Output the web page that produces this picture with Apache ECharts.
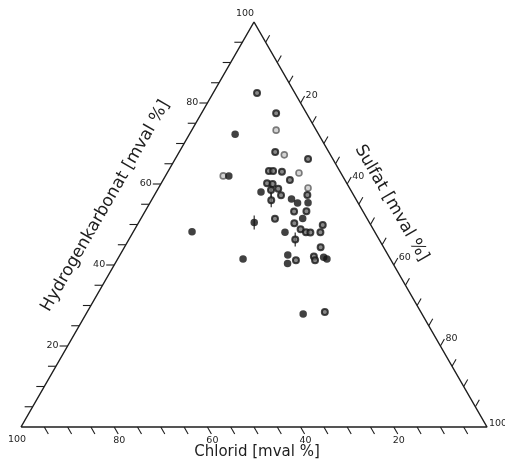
<!DOCTYPE html>
<html><head><meta charset="utf-8">
<script src="https://cdn.jsdelivr.net/npm/echarts@6/dist/echarts.min.js"></script>
<style>html,body{margin:0;padding:0;background:#fff}#c{width:505px;height:467px}</style>
</head><body><div id="c"></div>
<script>
// Axis titles: 0 = bottom (Chlorid), 1 = left (Hydrogenkarbonat), 2 = right (Sulfat)
const axisTitles = ['Chlorid [mval %]', 'Hydrogenkarbonat [mval %]', 'Sulfat [mval %]'];
const tickValues = [5,10,15,20,25,30,35,40,45,50,55,60,65,70,75,80,85,90,95];
const labelValues = [20,40,60,80];
const cornerLabel = '100';

// Points as [Hydrogenkarbonat, Sulfat, Chlorid] in mval %
const solidPoints = [
  [72.3,9.8,17.9],[62.0,13.6,24.4],[58.0,22.5,19.5],[56.3,29.9,13.8],[55.3,31.7,13.0],
  [55.4,33.9,10.7],[51.5,34.7,13.8],[50.5,24.8,24.7],[48.1,32.6,19.3],[48.2,12.6,39.2],
  [41.5,26.9,31.6],[42.5,36.0,21.5],[40.4,37.0,22.6],[41.9,44.0,14.1],[41.5,44.9,13.6],
  [27.9,46.6,25.5]
];
const darkPoints = [
  [82.5,9.4,8.1],[77.5,16.0,6.5],[67.9,20.6,11.5],[66.2,28.5,5.3],[63.2,21.6,15.2],
  [63.2,22.5,14.3],[63.0,24.5,12.5],[61.0,27.2,11.8],[60.2,22.7,17.1],[60.0,24.0,16.0],
  [58.5,24.4,17.1],[58.8,25.8,15.4],[57.3,32.8,9.9],[57.2,27.2,15.6],[56.0,25.7,18.3],
  [53.2,32.0,14.8],[53.3,34.6,12.1],[51.4,28.8,19.8],[50.3,33.5,16.2],[49.9,39.8,10.3],
  [48.8,35.6,15.6],[48.1,37.1,14.8],[48.0,38.1,13.9],[48.1,40.2,11.7],[46.3,35.7,18.0],
  [44.4,42.1,13.5],[41.2,38.4,20.4],[42.1,41.8,16.1],[41.2,42.5,16.3],[28.4,51.0,20.6]
];
const grayPoints = [
  [73.3,18.1,8.6],[67.2,22.9,9.9],[62.0,12.4,25.6],[62.7,28.3,9.0],[59.0,32.1,8.9]
];
// samples marked with a vertical bar
const barPoints = [
  [58.5,24.4,17.1],[56.0,25.7,18.3],[50.5,24.8,24.7],[46.3,35.7,18.0]
];

const R3 = Math.sqrt(3) / 2;
function toXY(h, s) { return [s + h / 2, h * R3]; }
function edgePoint(axis, v) {
  if (axis === 0) return toXY(0, 100 - v);      // Chlorid along bottom
  if (axis === 1) return toXY(v, 0);            // HCO3 along left
  return toXY(100 - v, v);                      // Sulfat along right
}
const tickDir = [[0.5, R3], [-1, 0], [0.5, -R3]];
const TICK = 8;
const INK = '#1e1e1e';
const FONT_S = '9.5px "DejaVu Sans"';
const FONT_T = '15px "DejaVu Sans"';
const FONT_R = '17px "DejaVu Sans"';

const tickData = [];
[0,1,2].forEach(a => tickValues.forEach(v => tickData.push([a, v])));

function renderTick(params, api) {
  const a = api.value(0), v = api.value(1);
  const c = api.coord(edgePoint(a, v));
  const d = tickDir[a];
  const ex = c[0] + d[0] * TICK, ey = c[1] + d[1] * TICK;
  const children = [{
    type: 'line', shape: {x1: c[0], y1: c[1], x2: ex, y2: ey},
    style: {stroke: INK, lineWidth: 1.1}
  }];
  if (labelValues.indexOf(v) >= 0) {
    let t;
    if (a === 0) t = {x: c[0] + 5, y: c[1] + 14, align: 'center'};
    else if (a === 1) t = {x: ex - 1, y: ey, align: 'right'};
    else t = {x: ex + 1, y: ey - 1, align: 'left'};
    children.push({type: 'text', x: t.x, y: t.y,
      style: {text: String(v), font: FONT_S, fill: INK, align: t.align, verticalAlign: 'middle'}});
  }
  return {type: 'group', children};
}

function renderTitles(params, api) {
  const a = api.value(0);
  const kids = [];
  const top = api.coord(toXY(100, 0)), bl = api.coord(toXY(0, 0)), br = api.coord(toXY(0, 100));
  if (a === 0) {
    const m = api.coord(edgePoint(0, 50));
    kids.push({type: 'text', x: m[0] + 3, y: m[1] + 25,
      style: {text: axisTitles[0], font: FONT_T, fill: INK, align: 'center', verticalAlign: 'middle'}});
    kids.push({type: 'text', x: bl[0] - 4, y: bl[1] + 13,
      style: {text: cornerLabel, font: FONT_S, fill: INK, align: 'center', verticalAlign: 'middle'}});
  } else if (a === 1) {
    const m = api.coord(edgePoint(1, 50));
    const n = [-R3, -0.5], off = 37;
    kids.push({type: 'text', x: m[0] + n[0] * off, y: m[1] + n[1] * off, rotation: Math.PI / 3,
      style: {text: axisTitles[1], font: FONT_R, fill: INK, align: 'center', verticalAlign: 'middle'}});
    kids.push({type: 'text', x: top[0] - 9, y: top[1] - 8,
      style: {text: cornerLabel, font: FONT_S, fill: INK, align: 'center', verticalAlign: 'middle'}});
  } else {
    const m = api.coord(edgePoint(2, 50));
    const n = [R3, -0.5], off = 29, along = -8;
    kids.push({type: 'text', x: m[0] + n[0] * off + 0.5 * along, y: m[1] + n[1] * off + R3 * along,
      rotation: -Math.PI / 3,
      style: {text: axisTitles[2], font: FONT_R, fill: INK, align: 'center', verticalAlign: 'middle'}});
    kids.push({type: 'text', x: br[0] + 2, y: br[1] - 3,
      style: {text: cornerLabel, font: FONT_S, fill: INK, align: 'left', verticalAlign: 'middle'}});
  }
  return {type: 'group', children: kids};
}

const conv = arr => arr.map(p => toXY(p[0], p[1]));
const triangle = [toXY(0, 0), toXY(100, 0), toXY(0, 100), toXY(0, 0)];

const chart = echarts.init(document.getElementById('c'), null, {renderer: 'canvas'});
chart.setOption({
  animation: false,
  backgroundColor: '#ffffff',
  grid: {left: 21, top: 22, width: 466, height: 405},
  xAxis: {type: 'value', min: 0, max: 100, show: false},
  yAxis: {type: 'value', min: 0, max: 100 * R3, show: false},
  series: [
    {type: 'line', data: triangle, symbol: 'none', clip: false, silent: true,
      lineStyle: {color: INK, width: 1.5}, z: 2},
    {type: 'custom', data: tickData, renderItem: renderTick, silent: true, z: 2},
    {type: 'custom', data: [[0],[1],[2]], renderItem: renderTitles, silent: true, z: 2},
    {type: 'scatter', data: conv(barPoints), symbol: 'rect', symbolSize: [1.4, 14],
      itemStyle: {color: INK}, silent: true, z: 3},
    {type: 'scatter', data: conv(grayPoints), symbol: 'circle', symbolSize: 6,
      itemStyle: {color: '#c8c8c8', borderColor: '#5e5e5e', borderWidth: 1.6}, silent: true, z: 4},
    {type: 'scatter', data: conv(darkPoints), symbol: 'circle', symbolSize: 6,
      itemStyle: {color: '#6a6a6a', borderColor: '#161616', borderWidth: 2}, silent: true, z: 4},
    {type: 'scatter', data: conv(solidPoints), symbol: 'circle', symbolSize: 7.5,
      itemStyle: {color: '#111111'}, silent: true, z: 4}
  ]
});
</script></body></html>
